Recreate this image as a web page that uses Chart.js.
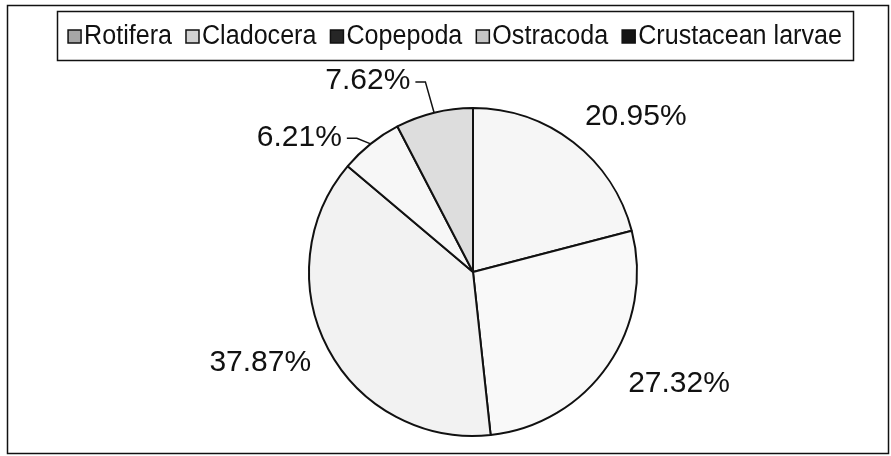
<!DOCTYPE html>
<html>
<head>
<meta charset="utf-8">
<script src="https://cdn.jsdelivr.net/npm/chart.js@4.4.1/dist/chart.umd.min.js"></script>
<style>
  html, body { margin: 0; padding: 0; background: #ffffff; }
  #wrap { width: 891px; height: 456px; position: relative; }
</style>
</head>
<body>
<div id="wrap"><canvas id="c" width="891" height="456"></canvas></div>
<script>
// Zooplankton composition (% of total)
const categories = ['Rotifera', 'Cladocera', 'Copepoda', 'Ostracoda', 'Crustacean larvae'];
const shares = [20.95, 27.32, 37.87, 6.21, 7.62];

// slice and legend-swatch colours
const sliceFill = ['#f6f6f6', '#f9f9f9', '#f2f2f2', '#f7f7f7', '#dddddd'];
const swatchFill = ['#a6a6a6', '#d2d2d2', '#262626', '#c6c6c6', '#151515'];

// percentage label placement: angular shift (deg) from slice middle, distance in radii
const labelShift = [8.7, -6.1, 4.9, -13.6, -15.1];
const labelDist = [1.37, 1.43, 1.41, 1.34, 1.33];
const withLeader = [false, false, false, true, true];

const FONT = '"Liberation Sans", Arial, Helvetica, sans-serif';

const framePlugin = {
  id: 'frame',
  beforeDraw(chart) {
    const ctx = chart.ctx;
    ctx.save();
    ctx.fillStyle = '#ffffff';
    ctx.fillRect(0, 0, chart.width, chart.height);
    ctx.strokeStyle = '#111111';
    ctx.lineWidth = 1.5;
    ctx.strokeRect(7.5, 5.5, 881, 448);
    ctx.restore();
  }
};

const legendPlugin = {
  id: 'boxLegend',
  afterDraw(chart) {
    const ctx = chart.ctx;
    const box = { l: 57, t: 11, r: 853, b: 60 };
    const squeeze = 0.93; // narrow the legend lettering
    ctx.save();
    ctx.strokeStyle = '#111111';
    ctx.lineWidth = 1.5;
    ctx.strokeRect(box.l + 0.5, box.t + 0.5, box.r - box.l, box.b - box.t);
    ctx.font = '27px ' + FONT;
    const sw = 13, gapBox = 3, gapItem = 14;
    const widths = categories.map(c => ctx.measureText(c).width * squeeze);
    const total = widths.reduce((a, w) => a + sw + gapBox + w, 0) + gapItem * (categories.length - 1);
    let x = (box.l + box.r) / 2 - total / 2;
    const cy = (box.t + box.b) / 2 + 1;
    ctx.textBaseline = 'middle';
    ctx.textAlign = 'left';
    categories.forEach((c, i) => {
      ctx.fillStyle = swatchFill[i];
      ctx.fillRect(x, cy - sw / 2, sw, sw);
      ctx.lineWidth = 1.5;
      ctx.strokeStyle = '#111111';
      ctx.strokeRect(x, cy - sw / 2, sw, sw);
      x += sw + gapBox;
      ctx.save();
      ctx.translate(x, cy);
      ctx.scale(squeeze, 1);
      ctx.fillStyle = '#111111';
      ctx.fillText(c, 0, 0);
      ctx.restore();
      x += widths[i] + gapItem;
    });
    ctx.restore();
  }
};

const labelPlugin = {
  id: 'pctLabels',
  afterDatasetsDraw(chart) {
    const ctx = chart.ctx;
    const meta = chart.getDatasetMeta(0);
    ctx.save();
    ctx.font = '30px ' + FONT;
    ctx.fillStyle = '#111111';
    ctx.strokeStyle = '#111111';
    ctx.lineWidth = 1.5;
    ctx.textAlign = 'center';
    ctx.textBaseline = 'middle';
    meta.data.forEach((arc, i) => {
      const p = arc.getProps(['x', 'y', 'startAngle', 'endAngle', 'outerRadius'], true);
      const mid = (p.startAngle + p.endAngle) / 2;
      const a = mid + labelShift[i] * Math.PI / 180;
      const lx = p.x + Math.cos(a) * p.outerRadius * labelDist[i];
      const ly = p.y + Math.sin(a) * p.outerRadius * labelDist[i];
      const text = shares[i].toFixed(2) + '%';
      ctx.fillText(text, lx, ly);
      if (withLeader[i]) {
        const w = ctx.measureText(text).width;
        const sx = lx + w / 2 + 5;
        const sy = ly + 1;
        const ex = p.x + Math.cos(mid) * p.outerRadius;
        const ey = p.y + Math.sin(mid) * p.outerRadius;
        ctx.beginPath();
        ctx.moveTo(sx, sy);
        ctx.lineTo(sx + 10, sy);
        ctx.lineTo(ex, ey);
        ctx.stroke();
      }
    });
    ctx.restore();
  }
};

new Chart(document.getElementById('c'), {
  type: 'pie',
  data: {
    labels: categories,
    datasets: [{
      data: shares,
      backgroundColor: sliceFill,
      borderColor: '#111111',
      borderWidth: 2
    }]
  },
  options: {
    responsive: false,
    animation: false,
    events: [],
    layout: { padding: { left: 308, right: 253, top: 107, bottom: 19 } },
    plugins: {
      legend: { display: false },
      tooltip: { enabled: false }
    }
  },
  plugins: [framePlugin, legendPlugin, labelPlugin]
});
</script>
</body>
</html>
